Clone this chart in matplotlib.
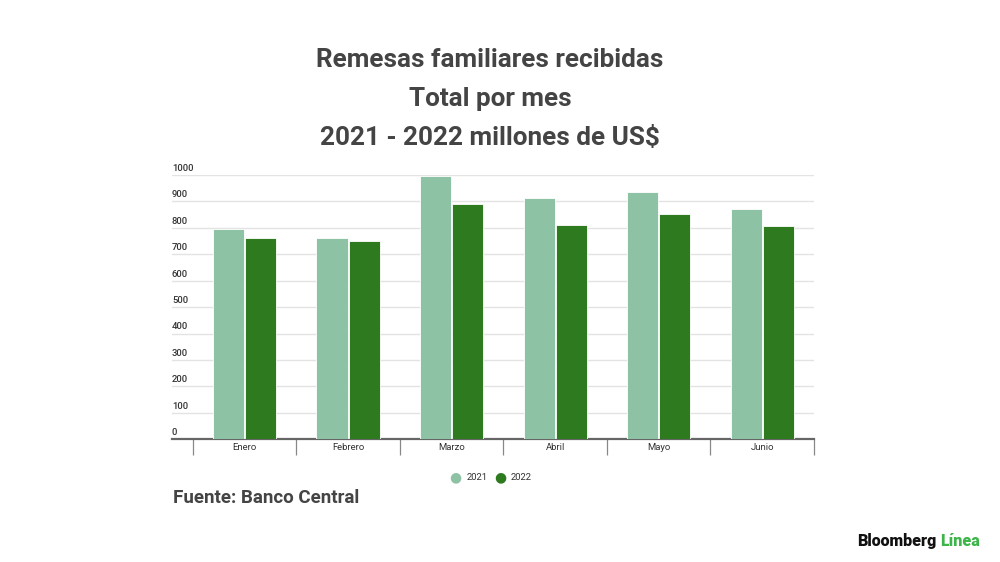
import numpy as np
import matplotlib.pyplot as plt
from matplotlib.ticker import FixedLocator

months = ["Enero", "Febrero", "Marzo", "Abril", "Mayo", "Junio"]
vals_2021 = [794, 762, 997, 912, 936, 871]
vals_2022 = [760, 750, 890, 811, 854, 806]
y_ticks = [0, 100, 200, 300, 400, 500, 600, 700, 800, 900, 1000]

C21 = "#8dc2a5"
C22 = "#2e7a1f"
TXT = "#444444"

plt.rcParams["font.family"] = ["Roboto", "DejaVu Sans"]

fig = plt.figure(figsize=(10, 5.62), dpi=100)
ax = fig.add_axes([0.172, 0.2183, 0.642, 0.4703])

x = np.arange(len(months))
w = 0.3
ax.bar(x - 0.155, vals_2021, w, color=C21, edgecolor="white", linewidth=0.6, zorder=3)
ax.bar(x + 0.155, vals_2022, w, color=C22, edgecolor="white", linewidth=0.6, zorder=3)

ax.set_xlim(-0.70, 5.5)
ax.set_ylim(0, 1000)

for s in ["top", "right", "left"]:
    ax.spines[s].set_visible(False)
ax.spines["bottom"].set_color("#666666")
ax.spines["bottom"].set_linewidth(1.6)

# gridlines, labels sit just above them
ax.set_yticks(y_ticks)
ax.set_yticklabels([])
ax.tick_params(axis="y", length=0)
for v in y_ticks:
    if v > 0:
        ax.axhline(v, color="#e3e3e3", linewidth=1.0, zorder=1)
    ax.text(-0.70, v + 8, str(v), fontsize=6.8, color="#333333",
            ha="left", va="bottom", fontweight="medium")

ax.set_xticks(x)
ax.set_xticklabels(months, fontsize=6.8, color="#333333")
ax.tick_params(axis="x", which="major", length=0, pad=3)
ax.xaxis.set_minor_locator(FixedLocator(np.arange(-0.5, 6, 1)))
ax.tick_params(axis="x", which="minor", length=11.5, width=0.9, color="#888888")

title_lines = ["Remesas familiares recibidas", "Total por mes", "2021 - 2022 millones de US$"]
for i, line in enumerate(title_lines):
    fig.text(0.49, 1 - (60 + 39 * i) / 562, line, ha="center", va="center",
             fontsize=18.8, fontweight="bold", color=TXT)

# legend
leg_y = 1 - 477 / 562
fig.text(0.4555, leg_y, "\u25CF", color=C21, fontsize=10, ha="center", va="center",
         family="DejaVu Sans")
fig.text(0.467, leg_y, "2021", color="#333333", fontsize=6.8, ha="left", va="center")
fig.text(0.5005, leg_y, "\u25CF", color=C22, fontsize=10, ha="center", va="center",
         family="DejaVu Sans")
fig.text(0.511, leg_y, "2022", color="#333333", fontsize=6.8, ha="left", va="center")

fig.text(0.173, 1 - 498 / 562, "Fuente: Banco Central", ha="left", va="center",
         fontsize=13.5, fontweight="bold", color=TXT)

t1 = fig.text(0.857, 1 - 541 / 562, "Bloomberg", ha="left", va="center",
              fontsize=11.5, fontweight="heavy", color="#111111")
fig.canvas.draw()
bb = t1.get_window_extent()
fig.text(bb.x1 / fig.bbox.width + 0.004, 1 - 541 / 562, "Línea", ha="left", va="center",
         fontsize=11.5, fontweight="heavy", color="#3db54a")

fig.savefig("out.png", dpi=100, facecolor="white")
